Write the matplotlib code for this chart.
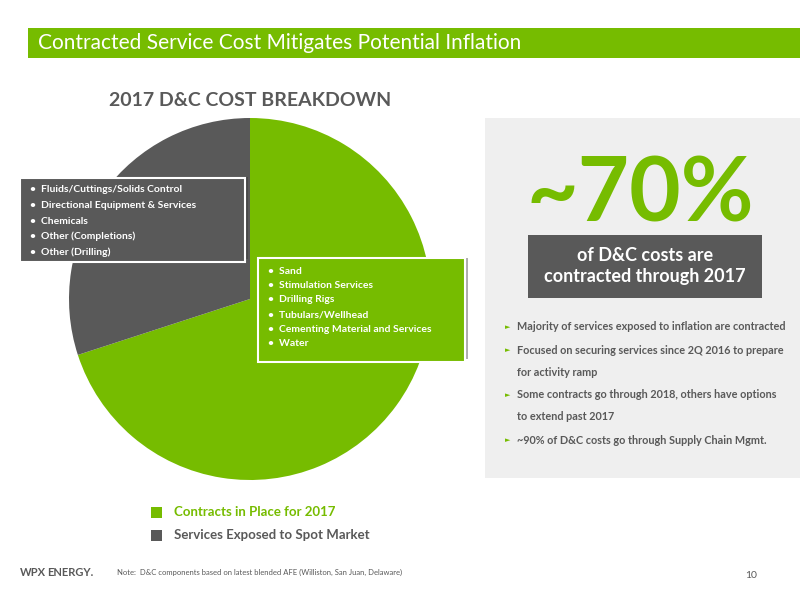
import matplotlib.pyplot as plt
from matplotlib.patches import Rectangle

plt.rcParams["font.family"] = ["Lato", "DejaVu Sans"]

GREEN = "#76BC00"
DARK = "#595959"
PANEL = "#EFEFEF"

shares = [70, 30]
share_colors = [GREEN, DARK]
green_items = ["Sand", "Stimulation Services", "Drilling Rigs", "Tubulars/Wellhead",
               "Cementing Material and Services", "Water"]
gray_items = ["Fluids/Cuttings/Solids Control", "Directional Equipment & Services",
              "Chemicals", "Other (Completions)", "Other (Drilling)"]
bullets = [
    ["Majority of services exposed to inflation are contracted"],
    ["Focused on securing services since 2Q 2016 to prepare", "for activity ramp"],
    ["Some contracts go through 2018, others have options", "to extend past 2017"],
    ["~90% of D&C costs go through Supply Chain Mgmt."],
]
legend_labels = ["Contracts in Place for 2017", "Services Exposed to Spot Market"]


def Y(py):
    return 600 - py


fig = plt.figure(figsize=(8, 6), dpi=100)
ax = fig.add_axes([0, 0, 1, 1])
ax.set_xlim(0, 800)
ax.set_ylim(0, 600)
ax.set_aspect("equal")
ax.axis("off")

# header bar
ax.add_patch(Rectangle((28, Y(58)), 772, 30, color=GREEN, lw=0))
ax.text(38, Y(43), "Contracted Service Cost Mitigates Potential Inflation",
        color="white", fontsize=15, va="center")

ax.text(250, Y(101), "2017 D&C COST BREAKDOWN", color=DARK, fontsize=14,
        fontweight="bold", ha="center", va="center")

# pie
ax.pie(shares, colors=share_colors, startangle=90, counterclock=False,
       center=(250, Y(299)), radius=181, frame=True,
       wedgeprops={"linewidth": 0})
ax.set_xlim(0, 800)
ax.set_ylim(0, 600)
ax.axis("off")

# overlay boxes
ax.add_patch(Rectangle((23, Y(259)), 225, 82, facecolor="#333333", lw=0, alpha=0.4))
ax.add_patch(Rectangle((20, Y(262)), 225, 84, facecolor=DARK, edgecolor="white", lw=1.5))
for i, t in enumerate(gray_items):
    ax.text(30, Y(190 + i * 15.5), "•  " + t, color="white", fontsize=7.5,
            fontweight="bold", va="center")
ax.add_patch(Rectangle((261, Y(359)), 207, 101, facecolor="#333333", lw=0, alpha=0.4))
ax.add_patch(Rectangle((258, Y(362)), 207, 104, facecolor=GREEN, edgecolor="white", lw=1.5))
for i, t in enumerate(green_items):
    ax.text(268, Y(271 + i * 14.5), "•  " + t, color="white", fontsize=7.5,
            fontweight="bold", va="center")

# right panel
ax.add_patch(Rectangle((485, Y(478)), 315, 360, color=PANEL, lw=0))
ax.text(640, Y(195), "~70%", color=GREEN, fontsize=64, fontweight="bold",
        ha="center", va="center")
ax.add_patch(Rectangle((528, Y(298)), 234, 63, color=DARK, lw=0))
ax.text(645, Y(266), "of D&C costs are\ncontracted through 2017", color="white",
        fontsize=13, fontweight="bold", ha="center", va="center", linespacing=1.3)
y = 327
for b in bullets:
    ax.text(505, Y(y), "►", color=GREEN, fontsize=5, va="center", family="DejaVu Sans")
    for line in b:
        ax.text(517, Y(y), line, color=DARK, fontsize=7.8, fontweight="bold", va="center")
        y += 22
    y += 1

# legend
for i, (lab, c) in enumerate(zip(legend_labels, share_colors)):
    yy = 512 + i * 23
    ax.add_patch(Rectangle((151, Y(yy + 6)), 11, 11, color=c, lw=0))
    ax.text(174, Y(yy), lab, color=c, fontsize=9.5, fontweight="bold", va="center")

# footer
ax.text(20, Y(573), "WPX", color=DARK, fontsize=8, fontweight="bold", va="center")
ax.text(47, Y(573), "ENERGY.", color=DARK, fontsize=8, fontweight="bold", va="center")
ax.text(117, Y(572), "Note:  D&C components based on latest blended AFE (Williston, San Juan, Delaware)",
        color=DARK, fontsize=5.5, va="center")
ax.text(745, Y(576), "10", color=DARK, fontsize=7.5, va="center")

fig.savefig("out.png", dpi=100)
